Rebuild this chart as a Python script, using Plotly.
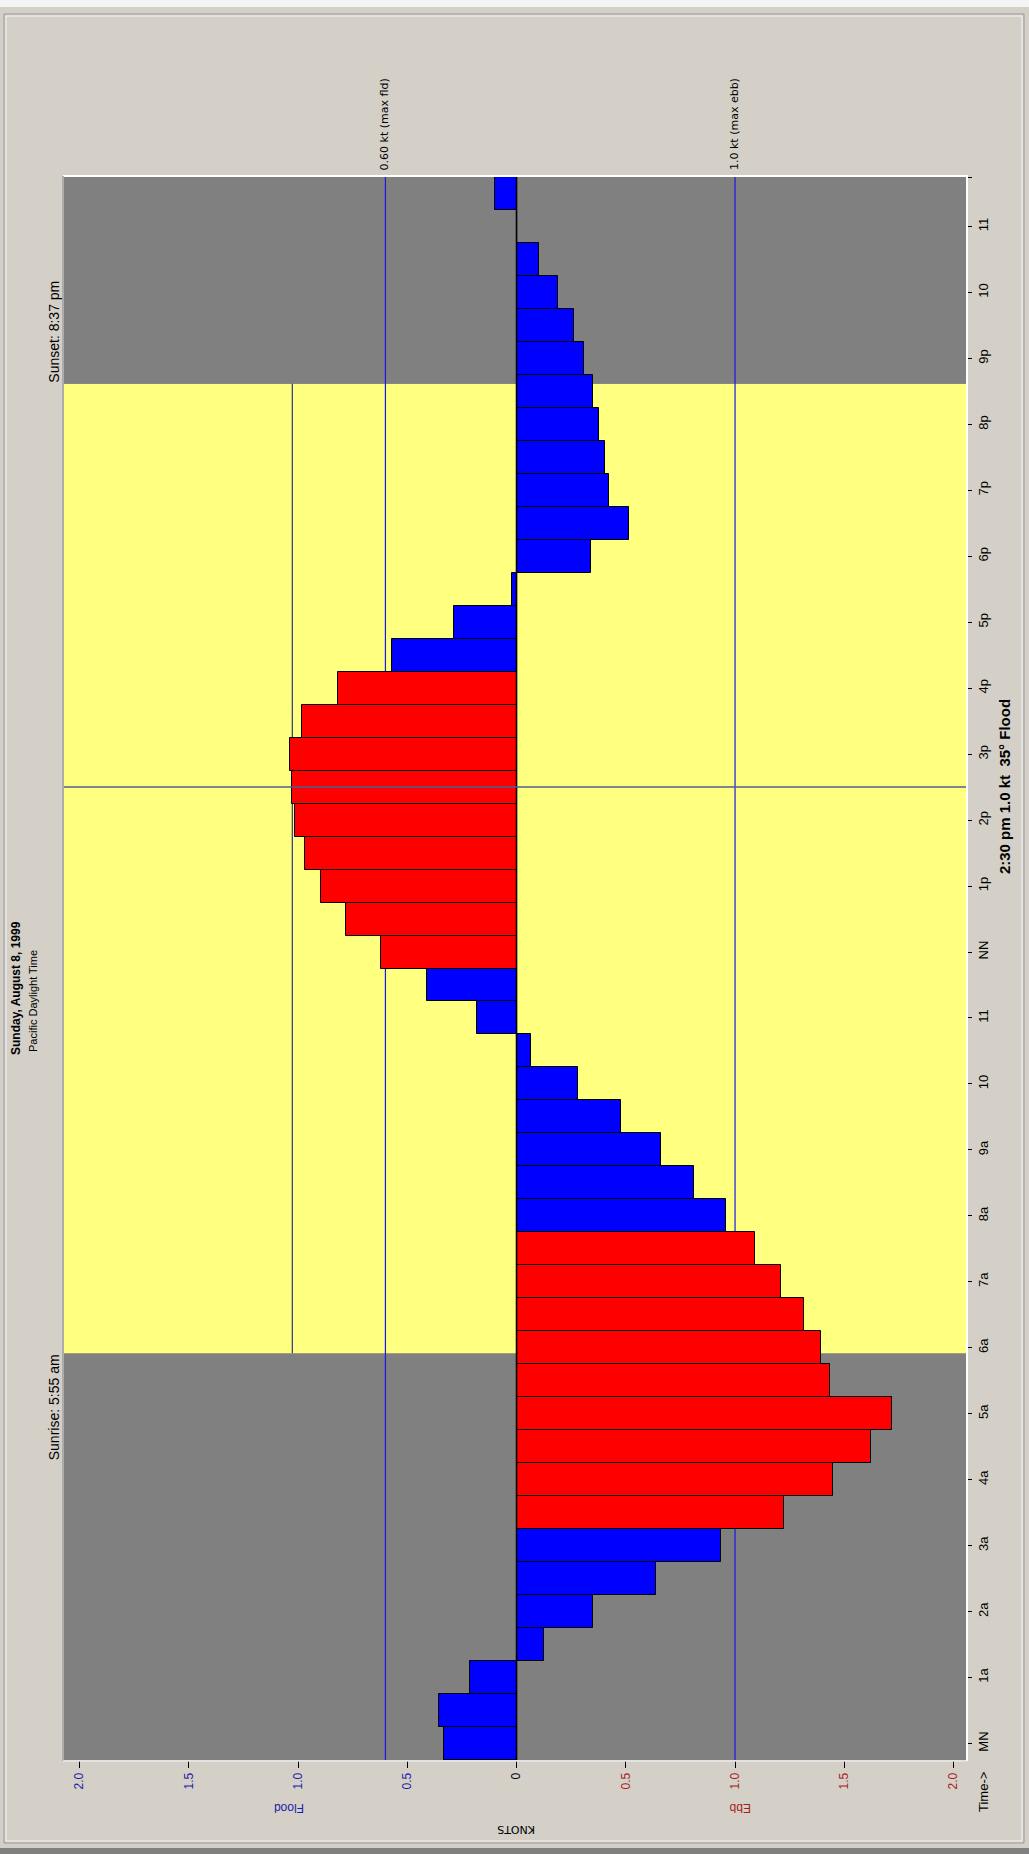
import plotly.graph_objects as go

# ---------------- data ----------------
# half-hourly readings (hours after midnight)
times = [0.0, 0.5, 1.0, 1.5, 2.0, 2.5, 3.0, 3.5, 4.0, 4.5, 5.0, 5.5,
         6.0, 6.5, 7.0, 7.5, 8.0, 8.5, 9.0, 9.5, 10.0, 10.5, 11.0, 11.5,
         12.0, 12.5, 13.0, 13.5, 14.0, 14.5, 15.0, 15.5, 16.0, 16.5, 17.0, 17.5,
         18.0, 18.5, 19.0, 19.5, 20.0, 20.5, 21.0, 21.5, 22.0, 22.5, 23.0, 23.5]
# current speed in knots: negative = flood (left), positive = ebb (right)
current_kt = [-0.33, -0.354, -0.215, 0.124, 0.352, 0.636, 0.938, 1.222, 1.448, 1.62, 1.718, 1.435,
              1.393, 1.315, 1.211, 1.09, 0.958, 0.813, 0.662, 0.48, 0.28, 0.064, -0.183, -0.412,
              -0.618, -0.781, -0.896, -0.969, -1.012, -1.026, -1.035, -0.98, -0.818, -0.569, -0.286, -0.02,
              0.34, 0.516, 0.425, 0.407, 0.377, 0.348, 0.311, 0.264, 0.19, 0.105, 0.0, -0.098]
# periods of strongest current (drawn red)
strong_periods = [(3.5, 7.5), (12.0, 16.0)]

sunrise = 5 + 55 / 60
sunset = 20 + 37 / 60
max_flood = 0.60
max_ebb = 1.0
cursor_time = 14.5
cursor_kt = -1.026

knot_ticks = [-2.0, -1.5, -1.0, -0.5, 0.0, 0.5, 1.0, 1.5, 2.0]
knot_labels = ["2.0", "1.5", "1.0", "0.5", "0", "0.5", "1.0", "1.5", "2.0"]
hour_ticks = list(range(24))
hour_labels = ["MN", "1a", "2a", "3a", "4a", "5a", "6a", "7a", "8a", "9a", "10", "11",
               "NN", "1p", "2p", "3p", "4p", "5p", "6p", "7p", "8p", "9p", "10", "11"]

# ---------------- layout helpers ----------------
W, H = 1029, 1854
L, R, T, B = 64, 966, 177, 1760


def xp(px):
    return (px - L) / (R - L)


def yp(py):
    return (B - py) / (B - T)


BG = "#d4d0c8"
NIGHT = "#808080"
DAY = "#ffff80"
FLOOD_C = "#1c1ca8"
EBB_C = "#a81c1c"
FONT = "Liberation Sans, Arial, sans-serif"
WIDE = "DejaVu Sans, Verdana, sans-serif"
NARROW = "Liberation Sans Narrow, Liberation Sans, Arial, sans-serif"

colors = []
for t in times:
    strong = any(a <= t <= b for a, b in strong_periods)
    colors.append("#ff0000" if strong else "#0000ff")

fig = go.Figure()
fig.add_trace(go.Bar(
    orientation="h", y=times, x=current_kt, width=0.5,
    marker=dict(color=colors, line=dict(color="#000000", width=1)),
    hoverinfo="skip", showlegend=False,
))

knot_text = []
for v, lab in zip(knot_ticks, knot_labels):
    if v < 0:
        knot_text.append(f'<span style="color:{FLOOD_C}">{lab}</span>')
    elif v > 0:
        knot_text.append(f'<span style="color:{EBB_C}">{lab}</span>')
    else:
        knot_text.append(lab)

shapes = []
# night / day shading
shapes.append(dict(type="rect", xref="paper", yref="y", x0=0, x1=1, y0=-0.25, y1=sunrise,
                   fillcolor=NIGHT, line=dict(width=0), layer="below"))
shapes.append(dict(type="rect", xref="paper", yref="y", x0=0, x1=1, y0=sunrise, y1=sunset,
                   fillcolor=DAY, line=dict(width=0), layer="below"))
shapes.append(dict(type="rect", xref="paper", yref="y", x0=0, x1=1, y0=sunset, y1=23.75,
                   fillcolor=NIGHT, line=dict(width=0), layer="below"))
# cursor vertical line (daylight only)
shapes.append(dict(type="line", xref="x", yref="y", x0=cursor_kt, x1=cursor_kt, y0=sunrise, y1=sunset,
                   line=dict(color="#3c4684", width=1.3), layer="below"))
# max flood / ebb lines
for v in (-max_flood, max_ebb):
    shapes.append(dict(type="line", xref="x", yref="paper", x0=v, x1=v, y0=0, y1=1,
                       line=dict(color="#1818e8", width=1.2), layer="below"))
# zero line
shapes.append(dict(type="line", xref="x", yref="paper", x0=0, x1=0, y0=0, y1=1,
                   line=dict(color="#000000", width=1.6)))
# cursor horizontal line
shapes.append(dict(type="line", xref="paper", yref="y", x0=0, x1=1, y0=cursor_time, y1=cursor_time,
                   line=dict(color="#4e5c96", width=1.5)))
# plot area 3D border
shapes.append(dict(type="line", xref="paper", yref="paper", x0=xp(L - 1), x1=xp(R + 2), y0=yp(T - 1), y1=yp(T - 1),
                   line=dict(color="#ffffff", width=2)))
shapes.append(dict(type="line", xref="paper", yref="paper", x0=xp(R + 1), x1=xp(R + 1), y0=yp(T - 1), y1=yp(B + 1),
                   line=dict(color="#ffffff", width=2)))
shapes.append(dict(type="line", xref="paper", yref="paper", x0=xp(L - 1), x1=xp(L - 1), y0=yp(T - 1), y1=yp(B + 1),
                   line=dict(color="#a0a0a0", width=1.5)))
shapes.append(dict(type="line", xref="paper", yref="paper", x0=xp(L - 1), x1=xp(R + 1), y0=yp(B + 1), y1=yp(B + 1),
                   line=dict(color="#e8e8e8", width=1.5)))
# outer window frame
shapes.append(dict(type="rect", xref="paper", yref="paper", x0=xp(4), x1=xp(1024), y0=yp(14), y1=yp(1843),
                   line=dict(color="#9a9a9a", width=1)))
shapes.append(dict(type="rect", xref="paper", yref="paper", x0=xp(6), x1=xp(1022), y0=yp(16), y1=yp(1841),
                   line=dict(color="#f4f4f4", width=1)))
shapes.append(dict(type="rect", xref="paper", yref="paper", x0=xp(0), x1=xp(W), y0=yp(1848), y1=yp(H),
                   fillcolor="#808080", line=dict(width=0)))
shapes.append(dict(type="rect", xref="paper", yref="paper", x0=xp(0), x1=xp(W), y0=yp(0), y1=yp(7),
                   fillcolor="#f4f4f4", line=dict(width=0)))

ann = []


def a(text, x, y, angle=-90, size=12, color="#000000", xanchor="center", yanchor="middle",
      xref="paper", yref="paper", family=FONT):
    ann.append(dict(text=text, x=x, y=y, xref=xref, yref=yref, textangle=angle, showarrow=False,
                    xanchor=xanchor, yanchor=yanchor, font=dict(size=size, color=color, family=family),
                    borderpad=0))


a("<b>Sunday, August 8, 1999</b>", xp(16), yp(1056), size=12, yanchor="bottom", family=NARROW)
a("Pacific Daylight Time", xp(33), yp(1053), size=11, yanchor="bottom", family=NARROW)
a("Sunrise: 5:55 am", xp(54), sunrise, yref="y", size=14, yanchor="top", family=NARROW)
a("Sunset: 8:37 pm", xp(54), sunset, yref="y", size=14, yanchor="bottom", family=NARROW)
a("0.60 kt (max fld)", -max_flood, yp(171), xref="x", size=11, yanchor="bottom", family=WIDE)
a("1.0 kt (max ebb)", max_ebb, yp(171), xref="x", size=11, yanchor="bottom", family=WIDE)
a("MN", xp(983), 24.0, yref="y", size=12, family=NARROW)
a("<b>2:30 pm 1.0 kt  35° Flood</b>", xp(1004), cursor_time, yref="y", size=15, family=NARROW)
a("Time->", xp(983), yp(1792), size=13, family=NARROW)
a("Flood", xp(289), yp(1808), angle=180, size=12, color=FLOOD_C)
a("Ebb", xp(740), yp(1808), angle=180, size=12, color=EBB_C)
a("KNOTS", xp(516), yp(1830), angle=180, size=11, family=WIDE)

fig.update_layout(
    width=W, height=H,
    margin=dict(l=L, r=W - R, t=T, b=H - B, pad=0),
    paper_bgcolor=BG, plot_bgcolor=NIGHT,
    showlegend=False,
    bargap=0,
    shapes=shapes,
    annotations=ann,
    xaxis=dict(range=[-2.071, 2.057], tickvals=knot_ticks, ticktext=knot_text, tickangle=-90,
               ticks="outside", ticklen=7, tickwidth=1.3, tickcolor="#000000",
               showgrid=False, zeroline=False, showline=False, fixedrange=True,
               tickfont=dict(size=12, family=FONT, color="#000000")),
    yaxis=dict(range=[-0.25, 23.75], side="right", tickvals=hour_ticks + [23.75],
               ticktext=hour_labels + [""], tickangle=-90,
               ticks="outside", ticklen=5, tickwidth=1.3, tickcolor="#000000",
               showgrid=False, zeroline=False, showline=False, fixedrange=True,
               tickfont=dict(size=13, family=NARROW, color="#000000")),
)

fig.write_html(
    "out.html",
    config={"displayModeBar": False},
    post_script="document.body.style.margin='0';document.body.style.overflow='hidden';",
)
